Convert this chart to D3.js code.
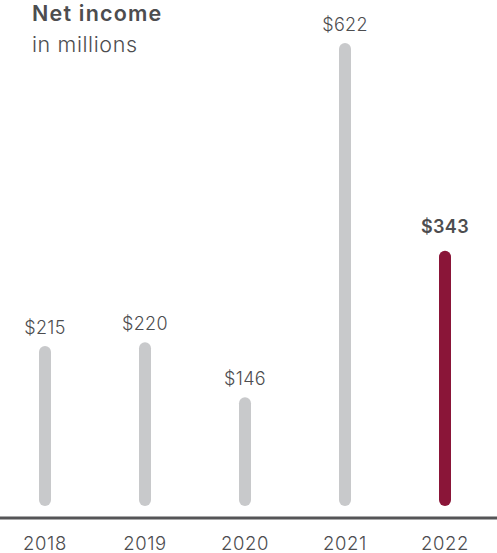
<!DOCTYPE html>
<html>
<head>
<meta charset="utf-8">
<script src="https://cdn.jsdelivr.net/npm/d3@7"></script>
<style>
  html, body { margin: 0; padding: 0; background: #fff; }
  svg { display: block; font-family: Inter, "Noto Sans", sans-serif; }
</style>
</head>
<body>
<div id="chart"></div>
<script>
const years = ["2018", "2019", "2020", "2021", "2022"];
const values = [215, 220, 146, 622, 343];
const valueLabels = ["$215", "$220", "$146", "$622", "$343"];
const highlightYear = "2022";

const W = 497, H = 553;
const svg = d3.select("#chart").append("svg").attr("width", W).attr("height", H);

const x = d3.scaleBand().domain(years).range([-5, 495]).padding(0);
const y = d3.scaleLinear().domain([0, 622]).range([506, 43]);
const barW = 12;

const grey = "#c8c9cb", red = "#8a1538", text = "#4d4d4f";

svg.selectAll("rect.bar").data(years).enter().append("rect")
  .attr("class", "bar")
  .attr("x", d => x(d) + x.bandwidth() / 2 - barW / 2)
  .attr("width", barW)
  .attr("y", (d, i) => y(values[i]))
  .attr("height", (d, i) => y(0) - y(values[i]))
  .attr("rx", barW / 2)
  .attr("fill", d => d === highlightYear ? red : grey);

svg.selectAll("text.val").data(years).enter().append("text")
  .attr("class", "val")
  .attr("x", d => x(d) + x.bandwidth() / 2)
  .attr("y", (d, i) => y(values[i]) - (d === highlightYear ? 18 : 12))
  .attr("text-anchor", "middle")
  .attr("font-size", 18)
  .attr("letter-spacing", 0.3)
  .attr("font-weight", d => d === highlightYear ? 600 : 300)
  .attr("fill", text)
  .text((d, i) => valueLabels[i]);

// axis
const axis = d3.axisBottom(x).tickSize(0).tickPadding(0);
const gx = svg.append("g").attr("transform", "translate(0,518)").call(axis);
gx.select(".domain").remove();
gx.append("line").attr("x1", 0).attr("x2", W).attr("y1", 0).attr("y2", 0)
  .attr("stroke", "#555557").attr("stroke-width", 3);
gx.selectAll(".tick text")
  .attr("y", 32).attr("dy", 0)
  .attr("font-size", 18.5)
  .attr("letter-spacing", 0.6)
  .attr("font-weight", 300)
  .attr("font-family", "Inter, 'Noto Sans', sans-serif")
  .attr("fill", text);

svg.append("text").attr("x", 32).attr("y", 21)
  .attr("font-size", 21.5).attr("font-weight", 600).attr("fill", text)
  .attr("letter-spacing", 1.2)
  .text("Net income");
svg.append("text").attr("x", 32).attr("y", 52)
  .attr("font-size", 21.5).attr("font-weight", 300).attr("fill", text)
  .attr("letter-spacing", 0.6)
  .text("in millions");
</script>
</body>
</html>
